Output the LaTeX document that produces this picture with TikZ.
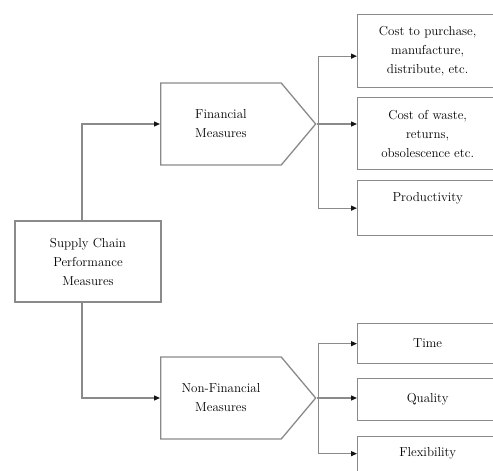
\documentclass[tikz,border=0pt]{standalone}
\usetikzlibrary{arrows.meta,positioning,shapes.symbols}
\definecolor{linegray}{HTML}{8A8A8A}
\definecolor{tipblack}{HTML}{141414}
\tikzset{
  box/.style={draw=linegray,line width=1.3pt,fill=white,align=center,inner sep=3pt,font=\fontsize{13}{19}\selectfont},
  rootbox/.style={box,minimum width=146pt,minimum height=81pt},
  groupbox/.style={box,shape=signal,signal to=east,signal pointer angle=100,minimum width=155pt,minimum height=82pt},
  itembox/.style={box,minimum width=140pt},
  link/.style={line width=1.3pt,draw=linegray},
  flow/.style={link,-{Triangle[length=6pt,width=5pt,color=tipblack]}}
}
\begin{document}
\begin{tikzpicture}[x=1pt,y=-1pt]
  \useasboundingbox (0,0) rectangle (493,471);
  % root and the two groups
  \node[rootbox] (scpm) at (88,261.5) {Supply Chain\\Performance\\Measures};
  \node[groupbox,anchor=west] (fin) at (160,124) {Financial\\Measures};
  \node[groupbox,anchor=west] (nonfin) at (160,398) {Non-Financial\\Measures};
  % financial items
  \node[itembox,minimum height=73pt,anchor=north west] (cost) at (357,14) {Cost to purchase,\\manufacture,\\distribute, etc.};
  \node[itembox,minimum height=72pt,anchor=north west] (waste) at (357,97) {Cost of waste,\\returns,\\obsolescence etc.};
  \node[itembox,minimum height=55pt,anchor=north west] (prod) at (357,180) {Productivity\\[4pt]\mbox{}};
  % non-financial items
  \node[itembox,minimum height=40pt,anchor=north west] (time) at (357,323) {Time};
  \node[itembox,minimum height=42pt,anchor=north west] (qual) at (357,378) {Quality};
  \node[itembox,minimum height=44pt,anchor=north west] (flex) at (357,436) {Flexibility\\[-6pt]\mbox{}};
  \coordinate (finjoin) at ([xshift=2pt]fin.east);
  \coordinate (nonfinjoin) at ([xshift=2pt]nonfin.east);
  \draw[flow] ([xshift=-6pt]scpm.north) |- (fin.west);
  \draw[flow] ([xshift=-6pt]scpm.south) |- (nonfin.west);
  \draw[link] (fin.east) -- (finjoin);
  \draw[flow] (finjoin) |- ([yshift=-5pt]cost.west);
  \draw[flow] (finjoin) -- (finjoin -| waste.west);
  \draw[flow] (finjoin) |- (prod.west);
  \draw[link] (nonfin.east) -- (nonfinjoin);
  \draw[flow] (nonfinjoin) |- (time.west);
  \draw[flow] (nonfinjoin) -- (nonfinjoin -| qual.west);
  \draw[flow] (nonfinjoin) |- ([yshift=5pt]flex.west);
\end{tikzpicture}
\end{document}
